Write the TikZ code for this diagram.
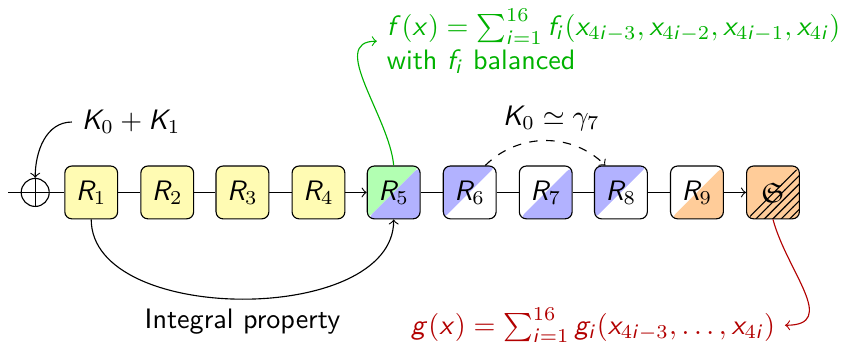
\documentclass[tikz,border=0pt]{standalone}
\usepackage{amssymb}
\usetikzlibrary{patterns}
\renewcommand{\familydefault}{\sfdefault}
\DeclareSymbolFont{sfitalic}{OT1}{cmss}{m}{sl}
\DeclareMathSymbol{f}{\mathalpha}{sfitalic}{`f}
\DeclareMathSymbol{g}{\mathalpha}{sfitalic}{`g}
\DeclareMathSymbol{x}{\mathalpha}{sfitalic}{`x}
\DeclareMathSymbol{i}{\mathalpha}{sfitalic}{`i}
\DeclareMathSymbol{K}{\mathalpha}{sfitalic}{`K}
\DeclareMathSymbol{R}{\mathalpha}{sfitalic}{`R}
\begin{document}
\begin{tikzpicture}[>=to,
    rbox/.style={draw, rounded corners=2.5pt, minimum size=0.66cm, inner sep=0pt},
    half/.style 2 args={path picture={
        \fill[#1] (path picture bounding box.south west) -- (path picture bounding box.north west) -- (path picture bounding box.north east) -- cycle;
        \fill[#2] (path picture bounding box.south west) -- (path picture bounding box.south east) -- (path picture bounding box.north east) -- cycle;}}]
    \useasboundingbox (0,0) rectangle (10.61,4.275);
    % round chain
    \coordinate (in) at (0.1,1.87);
    \node[circle, draw, minimum size=0.35cm, inner sep=0pt] (xor) at (0.44,1.87) {};
    \node[rbox, fill=yellow!30] (r1) at (1.14,1.87) {$R_1$};
    \node[rbox, fill=yellow!30] (r2) at (2.09,1.87) {$R_2$};
    \node[rbox, fill=yellow!30] (r3) at (3.03,1.87) {$R_3$};
    \node[rbox, fill=yellow!30] (r4) at (3.98,1.87) {$R_4$};
    \node[rbox, half={green!30}{blue!30}] (r5) at (4.92,1.87) {$R_5$};
    \node[rbox, half={blue!30}{white}] (r6) at (5.87,1.87) {$R_6$};
    \node[rbox, half={white}{blue!30}] (r7) at (6.82,1.87) {$R_7$};
    \node[rbox, half={blue!30}{white}] (r8) at (7.76,1.87) {$R_8$};
    \node[rbox, half={white}{orange!40}] (r9) at (8.71,1.87) {$R_9$};
    \node[rbox, fill=orange!40, path picture={
        \fill[pattern=north east lines] (path picture bounding box.south west) -- (path picture bounding box.south east) -- (path picture bounding box.north east) -- cycle;}] (sb) at (9.66,1.87) {$\mathfrak{S}$};
    \draw (in) -- (xor.west) -- (xor.east) -- (r1);
    \draw (xor.north) -- (xor.south);
    \draw (r1) -- (r2);
    \draw (r2) -- (r3);
    \draw (r3) -- (r4);
    \draw[->] (r4) -- (r5);
    \draw (r5) -- (r6);
    \draw (r6) -- (r7);
    \draw (r7) -- (r8);
    \draw (r8) -- (r9);
    \draw[->] (r9) -- (sb);
    % labels
    \node (key) at (1.64,2.75) {$K_0 + K_1$};
    \draw[->] (key.west) to[out=180, in=90] (xor.north);
    \node (equiv) at (6.89,2.8) {$K_0 \simeq \gamma_7$};
    \draw[dashed, ->] (r6.60) to[bend left=45] (r8.120);
    \node[anchor=west, align=left, text=green!70!black] (fx) at (4.71,3.76) {$f(x) = \sum_{i=1}^{16} f_i(x_{4i-3},x_{4i-2},x_{4i-1},x_{4i})$\\ with $f_i$ balanced};
    \draw[->, green!70!black] (r5.north) to[out=95, in=180] (fx.west);
    \draw[->] (r1.south) to[out=-90, in=-90, looseness=0.9] node[below] (ip) {Integral property} (r5.south);
    \node[anchor=east, text=red!70!black] (gx) at (9.81,0.21) {$g(x) = \sum_{i=1}^{16} g_i(x_{4i-3},\dots,x_{4i})$};
    \draw[->, red!70!black] (sb.south) to[out=-75, in=0, looseness=1.3] (gx.east);
\end{tikzpicture}
\end{document}
